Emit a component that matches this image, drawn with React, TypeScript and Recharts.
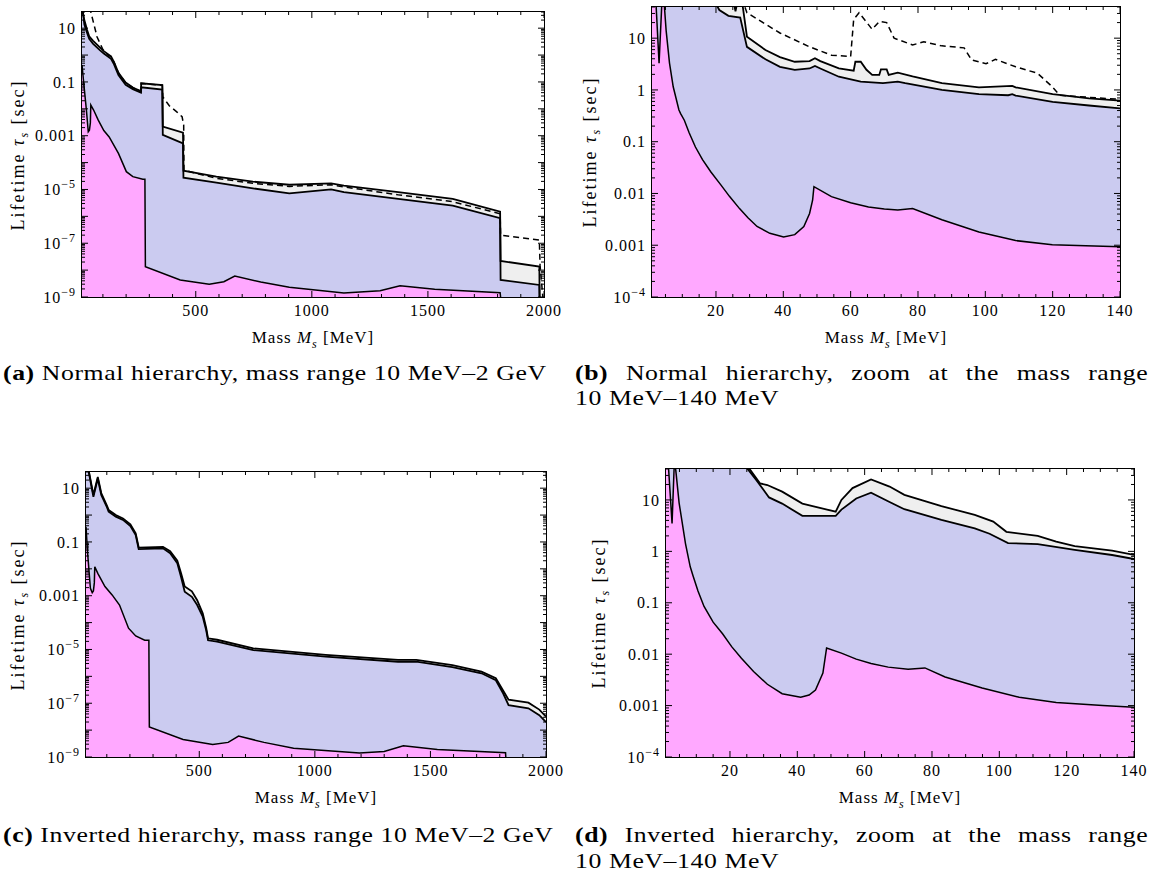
import React from "react";
import { Area, ComposedChart, Line, XAxis, YAxis } from "recharts";

// every curve: [mass in MeV, lifetime in s]

// (a) normal hierarchy, 10 MeV - 2 GeV
const aLower = [[10, 0.43], [19, 0.066], [29, 9e-3], [37, 1.4e-3], [42, 1.6e-3], [46, 3e-3], [48, 0.0138], [60, 9e-3], [80, 3.8e-3], [104, 1.55e-3], [127, 9e-4], [167, 2.2e-4], [201, 4.6e-5], [229, 3.0e-5], [272, 2.4e-5], [281, 2.4e-5], [283, 1.35e-8], [433, 4.3e-9], [558, 3.0e-9], [621, 3.7e-9], [668, 6.0e-9], [780, 3.6e-9], [903, 2.3e-9], [1138, 1.4e-9], [1294, 1.7e-9], [1380, 2.6e-9], [1529, 1.95e-9], [1811, 1.45e-9], [1813, 1e-9]];
const aUpper1 = [[10, 300], [14, 40], [20, 14], [32, 6.6], [41, 4.0], [58, 2.6], [88, 1.5], [104, 1.15], [135, 0.72], [148, 0.45], [167, 0.18], [198, 0.078], [229, 0.054], [264, 0.04], [265, 0.063], [356, 0.052], [358, 1.07e-3], [445, 5.2e-4], [447, 2.75e-5], [589, 1.8e-5], [746, 1.1e-5], [903, 7.2e-6], [1083, 1.0e-5], [1138, 7.9e-6], [1372, 4.5e-6], [1607, 2.5e-6], [1811, 8.5e-7], [1813, 4.3e-9], [1980, 2.8e-9], [1981, 1e-9]];
const aUpper2 = [[10, 400], [13, 40], [20, 20], [32, 8.5], [41, 5.0], [58, 3.4], [88, 1.9], [104, 1.4], [135, 0.9], [148, 0.55], [167, 0.22], [198, 0.095], [229, 0.062], [264, 0.045], [265, 0.089], [356, 0.076], [358, 2.2e-3], [445, 1.3e-3], [447, 5.0e-5], [589, 3.0e-5], [746, 1.95e-5], [903, 1.5e-5], [1083, 1.7e-5], [1138, 1.4e-5], [1372, 7.9e-6], [1607, 4.5e-6], [1811, 1.5e-6], [1813, 2.2e-8], [1980, 1.35e-8], [1981, 1e-9]];
const aDashed = [[40, 60], [48, 40], [75, 4.7], [100, 1.6], [125, 0.95], [135, 0.88], [148, 0.54], [167, 0.215], [198, 0.093], [229, 0.061], [264, 0.045], [265, 0.088], [356, 0.075], [358, 0.028], [386, 0.013], [417, 7.9e-3], [441, 5.1e-3], [448, 2.5e-3], [449, 5.2e-5], [589, 2.6e-5], [746, 1.7e-5], [903, 1.3e-5], [1083, 1.5e-5], [1138, 1.25e-5], [1372, 6.3e-6], [1607, 3.5e-6], [1811, 1.25e-6], [1813, 2.0e-7], [1980, 1.3e-7], [1983, 1.5e-8], [1995, 1e-9]];

// (b) normal hierarchy, zoom 10 - 140 MeV
const bLower = [[1, 200], [2.1, 60], [3.1, 3.3], [4.0, 60], [4.5, 60], [5.2, 14], [6.2, 3.3], [7.3, 1.15], [9.0, 0.41], [9.5, 0.35], [10.6, 0.26], [12, 0.15], [13.9, 0.079], [16, 0.045], [18.5, 0.026], [21.5, 0.0145], [24, 0.0088], [27, 0.0051], [29.5, 0.0034], [32.2, 0.0023], [36, 1.7e-3], [40.1, 1.45e-3], [43.4, 1.6e-3], [46.1, 2.3e-3], [47.8, 4.1e-3], [48.7, 7.4e-3], [49.1, 0.0135], [54.3, 8.7e-3], [60, 6.6e-3], [65.3, 5.5e-3], [70, 5.0e-3], [74, 4.8e-3], [78.4, 5.1e-3], [87.1, 3.1e-3], [98.1, 1.8e-3], [109, 1.23e-3], [119.9, 1.02e-3], [129.8, 9.8e-4], [140, 9.3e-4]];
const bUpper1 = [[1, 200], [19, 60], [21, 35], [23.7, 27], [27.2, 25], [29.2, 6.8], [34.7, 3.9], [39, 2.8], [43.4, 2.45], [47.8, 2.6], [49.4, 2.9], [51, 2.6], [56.5, 1.8], [63, 1.45], [69.6, 1.35], [74, 1.45], [76.2, 1.35], [87.1, 1.0], [98.1, 0.83], [106.8, 0.79], [108, 0.83], [109, 0.78], [120, 0.59], [130.8, 0.5], [140, 0.44]];
const bUpper2 = [[1, 200], [25, 60], [25.8, 33], [26.6, 60], [27.6, 60], [29.2, 10.7], [34.7, 5.9], [39, 4.3], [43.4, 3.5], [47.8, 3.6], [49.4, 4.1], [51, 3.6], [56.5, 2.6], [60.9, 2.35], [61.4, 3.5], [63, 3.5], [64.7, 2.45], [66.4, 1.95], [68.5, 1.95], [69, 2.5], [70.7, 2.5], [71.3, 1.95], [74, 2.15], [78.4, 1.82], [87.1, 1.35], [98.1, 1.12], [108, 1.2], [109, 1.12], [120, 0.83], [130.8, 0.69], [140, 0.62]];
const bDashed = [[27.6, 60], [29.2, 31], [39, 12.6], [47.8, 6.8], [54.3, 4.7], [60, 4.4], [60.9, 23], [62.5, 31], [66.4, 14.8], [68.5, 21], [70.7, 20], [72.9, 10], [78.4, 7.4], [81.7, 8.5], [87.1, 7.1], [93.7, 6.5], [95.9, 3.8], [100.2, 3.2], [103, 3.9], [109, 2.8], [115.5, 2.1], [119.9, 1.15], [122.1, 0.79], [130.8, 0.72], [140, 0.66]];

// (c) inverted hierarchy, 10 MeV - 2 GeV
const cLower = [[10, 0.37], [17, 0.038], [29, 1.9e-3], [37, 1.3e-3], [42, 1.5e-3], [46, 3e-3], [48, 0.012], [61, 6.8e-3], [92, 2.2e-3], [123, 1.07e-3], [155, 4.5e-4], [194, 6.2e-5], [225, 3.2e-5], [264, 2.2e-5], [282, 2.2e-5], [284, 1.3e-8], [430, 4.5e-9], [558, 2.95e-9], [625, 3.5e-9], [670, 6.0e-9], [780, 3.5e-9], [908, 2.1e-9], [1193, 1.4e-9], [1300, 1.6e-9], [1383, 2.6e-9], [1530, 1.9e-9], [1825, 1.45e-9], [1826, 1e-9]];
const cUpper1 = [[10, 300], [20, 60], [22, 40], [42, 4.8], [61, 23], [76, 5.6], [100, 2.0], [108, 1.35], [139, 0.87], [170, 0.66], [202, 0.39], [225, 0.18], [238, 0.054], [343, 0.058], [374, 0.038], [405, 0.016], [421, 5.1e-3], [437, 1.4e-3], [468, 9.1e-4], [491, 4.5e-4], [515, 1.66e-4], [530, 5.2e-5], [538, 2.2e-5], [577, 1.95e-5], [734, 9.5e-6], [1047, 5.4e-6], [1360, 3.5e-6], [1439, 3.5e-6], [1595, 2.2e-6], [1721, 1.3e-6], [1783, 7.2e-7], [1815, 2.3e-7], [1838, 8.5e-8], [1924, 6.5e-8], [1971, 3.6e-8], [2000, 2.0e-8]];
const cUpper2 = [[10, 300], [21, 60], [23, 40], [42, 5.6], [61, 26], [76, 6.6], [100, 2.3], [108, 1.55], [139, 1.0], [170, 0.75], [202, 0.45], [225, 0.21], [238, 0.062], [343, 0.066], [374, 0.045], [405, 0.02], [421, 7e-3], [437, 2.2e-3], [468, 1.45e-3], [491, 6.8e-4], [515, 2.2e-4], [530, 6.3e-5], [538, 2.6e-5], [577, 2.3e-5], [734, 1.1e-5], [1047, 6.3e-6], [1360, 4.1e-6], [1439, 4.1e-6], [1595, 2.6e-6], [1721, 1.5e-6], [1783, 8.5e-7], [1815, 2.9e-7], [1838, 1.35e-7], [1924, 1.05e-7], [1971, 5.8e-8], [2000, 3.2e-8]];

// (d) inverted hierarchy, zoom 10 - 140 MeV
const dLower = [[1, 200], [1.6, 60], [2.8, 3.5], [3.5, 60], [3.9, 38], [4.9, 8.7], [6.8, 1.4], [8.2, 0.5], [9.0, 0.34], [10.5, 0.17], [12.3, 0.085], [15, 0.042], [17.8, 0.025], [20.5, 0.014], [23.4, 8.3e-3], [27, 4.6e-3], [31.1, 2.6e-3], [35.5, 1.7e-3], [41, 1.45e-3], [43.5, 1.6e-3], [45.4, 2.0e-3], [47.6, 4.3e-3], [48.7, 0.0132], [53.1, 0.0105], [57.5, 8.0e-3], [61.9, 6.6e-3], [67, 5.6e-3], [72.9, 5.1e-3], [77.9, 5.4e-3], [83.9, 3.6e-3], [94.9, 2.2e-3], [105.9, 1.45e-3], [116.9, 1.15e-3], [130.7, 1.0e-3], [140, 9.3e-4]];
const dUpper1 = [[1, 200], [24.5, 60], [25, 42], [27.8, 24.5], [31.6, 11.2], [35.5, 8.5], [41.5, 4.9], [51.4, 4.9], [53.1, 6.5], [57.5, 10.7], [61.9, 13.8], [67.4, 9.1], [71.8, 6.6], [82.8, 4.1], [92.7, 2.8], [97.1, 2.2], [102.6, 1.45], [111.4, 1.38], [122.4, 1.07], [133.5, 0.85], [140, 0.71]];
const dUpper2 = [[1, 200], [25, 60], [25.6, 42], [28.9, 21], [31.1, 19.5], [35.5, 14.5], [41.5, 8.5], [51.4, 5.9], [53.1, 10], [56.4, 17], [61.9, 25], [67.4, 18.2], [71.8, 12.6], [78.4, 9.3], [82.8, 7.6], [92.7, 5.1], [98.2, 3.8], [102.1, 2.4], [111.4, 2.0], [116.9, 1.55], [122.4, 1.27], [133.5, 1.03], [140, 0.85]];

// axis ticks
const wideXTicks = [100, 200, 300, 400, 500, 600, 700, 800, 900, 1000, 1100, 1200, 1300, 1400, 1500, 1600, 1700, 1800, 1900, 2000];
const wideXLabels = [500, 1000, 1500, 2000];
const zoomXTicks = [5, 10, 15, 20, 25, 30, 35, 40, 45, 50, 55, 60, 65, 70, 75, 80, 85, 90, 95, 100, 105, 110, 115, 120, 125, 130, 135, 140];
const zoomXLabels = [20, 40, 60, 80, 100, 120, 140];
const wideYLabels = [10, 0.1, 0.001, 1e-5, 1e-7, 1e-9];
const zoomYLabels = [10, 1, 0.1, 0.01, 0.001, 1e-4];

const PINK = "#ffa8ff";
const LAV = "#cbcbf0";
const GRAY = "#efefef";
const SERIF = "'Liberation Serif', 'DejaVu Serif', serif";

const pts = (a: number[][]) => a.map(([m, t]) => ({ m, t }));

function logTicks(lo: number, hi: number, max: number) {
  const out: number[] = [];
  for (let e = lo; e <= hi; e++) {
    for (let k = 1; k <= 9; k++) {
      const v = Number((k * Math.pow(10, e)).toPrecision(2));
      if (v <= max) out.push(v);
    }
  }
  return out;
}

const same = (a: number, b: number) => Math.abs(a - b) <= Math.abs(b) * 1e-6;
const isDecade = (v: number) => Math.abs(Math.log10(v) - Math.round(Math.log10(v))) < 1e-6;

function yText(v: number) {
  const e = Math.round(Math.log10(v));
  if (e >= 0) return <tspan>{String(Math.round(v))}</tspan>;
  if (e >= -3) return <tspan>{v.toFixed(-e)}</tspan>;
  return (
    <>
      <tspan>10</tspan>
      <tspan dy={-7} fontSize={12}>{"\u2212" + -e}</tspan>
    </>
  );
}

const ML = 80;
const MT = 10;
const MR = 20;
const MB = 40;
const YW = 70;
const XH = 30;

interface PanelProps {
  left: number;
  top: number;
  width: number;
  height: number;
  xDomain: [number, number];
  yDomain: [number, number];
  xTicks: number[];
  xMajorStep: number;
  xLabels: number[];
  yLabels: number[];
  lower: number[][];
  upper1: number[][];
  upper2: number[][];
  dashed?: number[][];
  yTitleX: number;
}

function Panel(p: PanelProps) {
  const x0 = ML;
  const x1 = ML + p.width;
  const y0 = MT;
  const y1 = MT + p.height;
  const yTicks = logTicks(Math.round(Math.log10(p.yDomain[0])), 1, p.yDomain[1]);

  const xTick = (t: any) => {
    const v = t.payload.value;
    const len = v % p.xMajorStep === 0 ? 6 : 3;
    return (
      <g>
        <line x1={t.x} x2={t.x} y1={y1} y2={y1 - len} stroke="#000" />
        <line x1={t.x} x2={t.x} y1={y0} y2={y0 + len} stroke="#000" />
        {p.xLabels.includes(v) && (
          <text x={t.x} y={y1 + 6} dy="0.8em" textAnchor="middle" fontFamily={SERIF} fontSize={16} letterSpacing={1} fill="#000">
            {v}
          </text>
        )}
      </g>
    );
  };

  const yTick = (t: any) => {
    const v = t.payload.value;
    const len = isDecade(v) ? 6 : 3;
    const lbl = p.yLabels.some((l) => same(v, l));
    return (
      <g>
        <line x1={x0} x2={x0 + len} y1={t.y} y2={t.y} stroke="#000" />
        <line x1={x1} x2={x1 - len} y1={t.y} y2={t.y} stroke="#000" />
        {lbl && (
          <text x={x0 - 6} y={t.y} dy="0.35em" textAnchor="end" fontFamily={SERIF} fontSize={16} letterSpacing={1} fill="#000">
            {yText(v)}
          </text>
        )}
      </g>
    );
  };

  return (
    <>
      <div style={{ position: "absolute", left: p.left - ML, top: p.top - MT }}>
        <ComposedChart
          width={p.width + ML + MR}
          height={p.height + MT + MB}
          margin={{ top: MT, right: MR, left: ML - YW, bottom: MB - XH }}
        >
          <Area data={pts(p.upper2)} dataKey="t" type="linear" stroke="none" fill={GRAY} fillOpacity={1} isAnimationActive={false} />
          <Area data={pts(p.upper1)} dataKey="t" type="linear" stroke="none" fill={LAV} fillOpacity={1} isAnimationActive={false} />
          <Area data={pts(p.lower)} dataKey="t" type="linear" stroke="none" fill={PINK} fillOpacity={1} isAnimationActive={false} />
          <Line data={pts(p.upper2)} dataKey="t" type="linear" stroke="#000" strokeWidth={1.8} dot={false} isAnimationActive={false} />
          <Line data={pts(p.upper1)} dataKey="t" type="linear" stroke="#000" strokeWidth={1.8} dot={false} isAnimationActive={false} />
          <Line data={pts(p.lower)} dataKey="t" type="linear" stroke="#000" strokeWidth={1.5} dot={false} isAnimationActive={false} />
          {p.dashed && (
            <Line data={pts(p.dashed)} dataKey="t" type="linear" stroke="#000" strokeWidth={1.5} strokeDasharray="6 4" dot={false} isAnimationActive={false} />
          )}
          <XAxis
            type="number"
            dataKey="m"
            domain={p.xDomain}
            allowDataOverflow
            ticks={p.xTicks}
            interval={0}
            height={XH}
            tickSize={0}
            tickMargin={6}
            axisLine={false}
            tick={xTick}
          />
          <YAxis
            type="number"
            scale="log"
            domain={p.yDomain}
            allowDataOverflow
            ticks={yTicks}
            interval={0}
            width={YW}
            tickSize={0}
            tickMargin={6}
            axisLine={false}
            tick={yTick}
          />
        </ComposedChart>
      </div>
      <div
        style={{
          position: "absolute",
          left: p.left - 1,
          top: p.top - 1,
          width: p.width + 2,
          height: p.height + 2,
          border: "1px solid #000",
          boxSizing: "border-box",
          pointerEvents: "none",
        }}
      />
      <div
        style={{
          position: "absolute",
          left: p.left + p.width / 2,
          top: p.top + p.height + 43,
          transform: "translate(-50%, -50%)",
          whiteSpace: "nowrap",
          fontFamily: SERIF,
          fontSize: 17,
          letterSpacing: 1,
        }}
      >
        Mass <i>M</i>
        <sub style={{ fontSize: 12 }}>
          <i>s</i>
        </sub>{" "}
        [MeV]
      </div>
      <div
        style={{
          position: "absolute",
          left: p.yTitleX,
          top: p.top + p.height / 2,
          transform: "translate(-50%, -50%) rotate(-90deg)",
          whiteSpace: "nowrap",
          fontFamily: SERIF,
          fontSize: 18,
          letterSpacing: 2,
        }}
      >
        Lifetime <i>τ</i>
        <sub style={{ fontSize: 12 }}>
          <i>s</i>
        </sub>{" "}
        [sec]
      </div>
    </>
  );
}

const capStyle: React.CSSProperties = {
  position: "absolute",
  fontFamily: SERIF,
  fontSize: 22,
  lineHeight: "26px",
  whiteSpace: "nowrap",
  letterSpacing: 0.5,
  transform: "scaleX(1.17)",
  transformOrigin: "0 50%",
};

export default function App() {
  return (
    <div style={{ position: "absolute", left: 0, top: 0, width: 1151, height: 881, background: "#fff", overflow: "hidden" }}>
      <Panel
        left={82} top={12} width={462} height={285}
        xDomain={[10, 2000]} yDomain={[1e-9, 40]}
        xTicks={wideXTicks} xMajorStep={500} xLabels={wideXLabels} yLabels={wideYLabels}
        lower={aLower} upper1={aUpper1} upper2={aUpper2} dashed={aDashed}
        yTitleX={20}
      />
      <Panel
        left={652} top={7} width={468} height={290}
        xDomain={[1, 140]} yDomain={[1e-4, 40]}
        xTicks={zoomXTicks} xMajorStep={20} xLabels={zoomXLabels} yLabels={zoomYLabels}
        lower={bLower} upper1={bUpper1} upper2={bUpper2} dashed={bDashed}
        yTitleX={592}
      />
      <Panel
        left={86} top={472} width={460} height={285}
        xDomain={[10, 2000]} yDomain={[1e-9, 40]}
        xTicks={wideXTicks} xMajorStep={500} xLabels={wideXLabels} yLabels={wideYLabels}
        lower={cLower} upper1={cUpper1} upper2={cUpper2}
        yTitleX={20}
      />
      <Panel
        left={666} top={469} width={468} height={288}
        xDomain={[1, 140]} yDomain={[1e-4, 40]}
        xTicks={zoomXTicks} xMajorStep={20} xLabels={zoomXLabels} yLabels={zoomYLabels}
        lower={dLower} upper1={dUpper1} upper2={dUpper2}
        yTitleX={601}
      />

      <div style={{ ...capStyle, left: 3, top: 360 }}>
        <b>(a)</b> Normal hierarchy, mass range 10 MeV–2 GeV
      </div>
      <div style={{ ...capStyle, left: 575, top: 360, width: 490, textAlign: "justify", textAlignLast: "justify", whiteSpace: "normal" }}>
        <b>(b)</b> Normal hierarchy, zoom at the mass range
      </div>
      <div style={{ ...capStyle, left: 575, top: 385 }}>10 MeV–140 MeV</div>

      <div style={{ ...capStyle, left: 3, top: 822 }}>
        <b>(c)</b> Inverted hierarchy, mass range 10 MeV–2 GeV
      </div>
      <div style={{ ...capStyle, left: 575, top: 822, width: 490, textAlign: "justify", textAlignLast: "justify", whiteSpace: "normal" }}>
        <b>(d)</b> Inverted hierarchy, zoom at the mass range
      </div>
      <div style={{ ...capStyle, left: 575, top: 848 }}>10 MeV–140 MeV</div>
    </div>
  );
}
